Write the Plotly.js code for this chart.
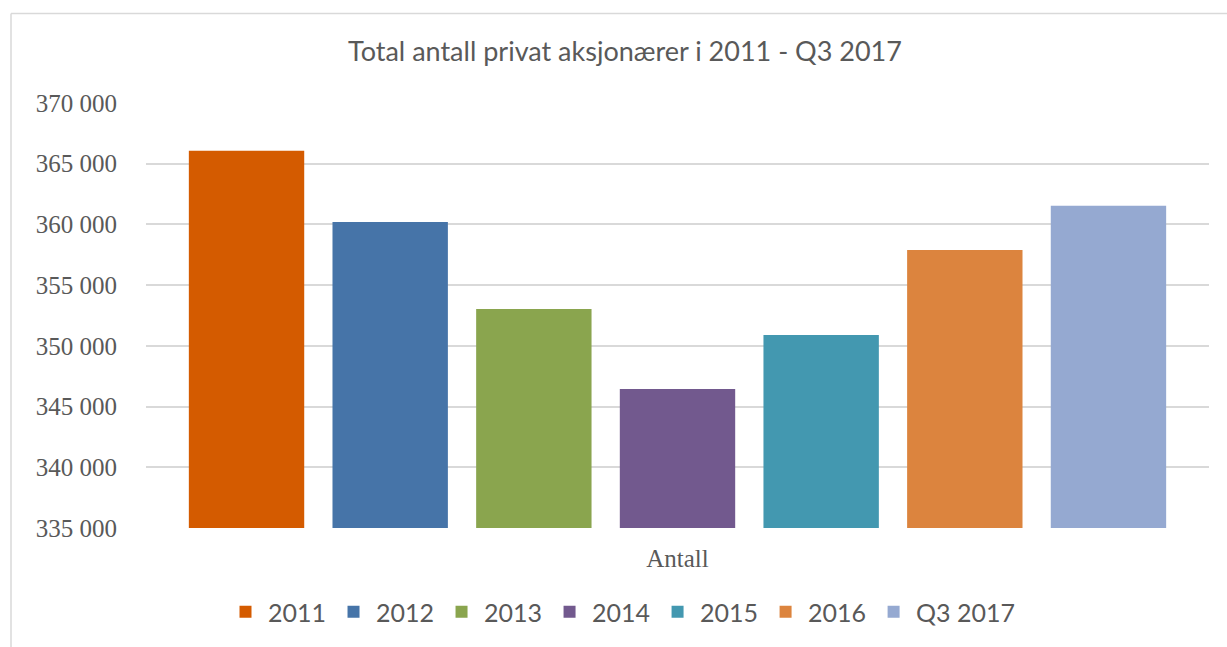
<!DOCTYPE html>
<html>
<head>
<meta charset="utf-8">
<script src="https://cdn.plot.ly/plotly-3.0.1.min.js"></script>
<style>html,body{margin:0;padding:0;background:#fff;}#chart{width:1227px;height:647px;}</style>
</head>
<body>
<div id="chart"></div>
<script>
const categories = ["Antall"];
const seriesNames = ["2011", "2012", "2013", "2014", "2015", "2016", "Q3 2017"];
const seriesValues = [366070, 360210, 353040, 346440, 350890, 357900, 361530];
const seriesColors = ["#D45B00", "#4674A8", "#8AA54E", "#72598E", "#4398B0", "#DC843E", "#95A9D1"];
const yTickValues = [335000, 340000, 345000, 350000, 355000, 360000, 365000, 370000];
const yTickLabels = ["335 000", "340 000", "345 000", "350 000", "355 000", "360 000", "365 000", "370 000"];

const traces = seriesNames.map((name, i) => ({
  type: "bar",
  name: name,
  x: categories,
  y: [seriesValues[i]],
  marker: {color: seriesColors[i]},
  hoverinfo: "name+y"
}));

const L = 146, R = 1209, T = 103, B = 528;
const pw = R - L, ph = B - T;
const px = v => (v - L) / pw;
const py = v => (B - v) / ph;

const layout = {
  width: 1227, height: 647,
  margin: {l: L, r: 1227 - R, t: T, b: 647 - B, pad: 0},
  paper_bgcolor: "#ffffff",
  plot_bgcolor: "#ffffff",
  barmode: "group",
  bargap: 0.054,
  bargroupgap: 0.1968,
  title: {
    text: "Total antall privat aksjonærer i 2011 - Q3 2017",
    font: {family: "Lato, 'Open Sans', sans-serif", size: 27, color: "#595959"},
    x: 625 / 1227, xref: "container", xanchor: "center",
    y: 53, yref: "container", yanchor: "middle"
  },
  xaxis: {
    type: "category",
    range: [-0.5, 0.5],
    showgrid: false, zeroline: false, showline: false,
    ticks: "",
    ticklabelstandoff: 13,
    tickfont: {family: "'Liberation Serif', 'DejaVu Serif', serif", size: 25, color: "#595959"}
  },
  yaxis: {
    range: [335000, 370000],
    tickvals: yTickValues,
    ticktext: yTickLabels,
    showgrid: true, gridcolor: "#D9D9D9", gridwidth: 1.5,
    zeroline: false, showline: false, ticks: "",
    ticklabelstandoff: 28,
    tickfont: {family: "'Liberation Serif', 'DejaVu Serif', serif", size: 25, color: "#595959"}
  },
  legend: {
    orientation: "h",
    x: px(223), xanchor: "left",
    y: py(612), yanchor: "middle",
    font: {family: "Lato, 'Open Sans', sans-serif", size: 25, color: "#595959"},
    itemwidth: 35,
    itemclick: false, itemdoubleclick: false,
    traceorder: "normal"
  },
  shapes: [
    {type: "line", xref: "paper", yref: "paper", x0: px(11), x1: px(1240), y0: py(13.5), y1: py(13.5), line: {color: "#D9D9D9", width: 1.5}},
    {type: "line", xref: "paper", yref: "paper", x0: px(11), x1: px(11), y0: py(13.5), y1: py(660), line: {color: "#D9D9D9", width: 1.5}}
  ],
  showlegend: true
};

Plotly.newPlot("chart", traces, layout, {displayModeBar: false});
</script>
</body>
</html>
